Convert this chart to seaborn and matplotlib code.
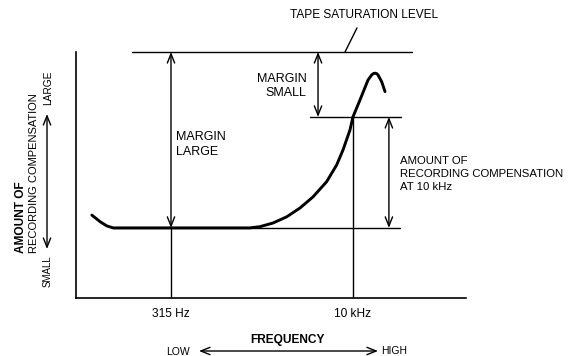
import matplotlib
matplotlib.use("Agg")
import matplotlib.pyplot as plt
from matplotlib.ticker import NullLocator
import pandas as pd
import seaborn as sns

# Recording compensation curve: frequency (Hz) against relative level
# (tape saturation level = 100)
freq_hz = [70, 82, 93, 105, 315, 1410, 1710, 2190, 2840, 3660, 4680, 6070,
           7340, 8280, 9450, 10000, 11430, 13310, 14280, 14720, 15200, 15700,
           16090, 17270, 18390]
level = [33.7, 31.0, 29.3, 28.5, 28.5, 28.5, 29.0, 30.5, 33.0, 36.6, 41.1,
         47.3, 54.1, 60.2, 68.3, 73.6, 80.5, 88.6, 90.7, 91.2, 91.4, 91.2,
         90.7, 87.9, 83.9]

saturation_level = 100
flat_level = 28.5
level_at_10k = 73.6
ref_low_hz = 315
ref_high_hz = 10000

tick_freqs = [315, 10000]
tick_labels = ["315 Hz", "10 kHz"]

W, H = 572, 356


def fpos(px, py):
    """Pixel position -> figure fraction."""
    return px / W, 1 - py / H


sns.set_theme(style="white")
plt.rcParams["font.family"] = ["Liberation Sans", "DejaVu Sans"]
plt.rcParams["text.color"] = "black"

fig = plt.figure(figsize=(W / 100, H / 100), dpi=100)
fig.patch.set_facecolor("white")
ax = fig.add_axes([76 / W, 1 - 298 / H, (466 - 76) / W, (298 - 52) / H])
ax.set_facecolor("white")

df = pd.DataFrame({"freq": freq_hz, "level": level})
sns.lineplot(data=df, x="freq", y="level", ax=ax, color="black",
             linewidth=2.1, sort=False, estimator=None,
             solid_capstyle="round", solid_joinstyle="round")

ax.set_xscale("log")
ax.set_xlim(51.8, 85700)
ax.set_ylim(0, 100)

thin = dict(color="black", linewidth=1.0)
# tape saturation level
ax.plot([151, 30700], [saturation_level] * 2, clip_on=False, **thin)
ax.plot([8600, 10800], [saturation_level, 109.8], clip_on=False, **thin)
# reference levels
ax.plot([105, 24400], [flat_level] * 2, **thin)
ax.plot([4420, 24900], [level_at_10k] * 2, **thin)
# frequency markers
ax.plot([ref_low_hz] * 2, [0, flat_level], **thin)
ax.plot([ref_high_hz] * 2, [0, level_at_10k], **thin)

arrow = dict(arrowstyle="<->,head_length=0.55,head_width=0.22",
             color="black", lw=1.0, shrinkA=0, shrinkB=0)
ax.annotate("", xy=(ref_low_hz, saturation_level),
            xytext=(ref_low_hz, flat_level), arrowprops=arrow,
            annotation_clip=False)
ax.annotate("", xy=(5150, saturation_level), xytext=(5150, level_at_10k),
            arrowprops=arrow, annotation_clip=False)
ax.annotate("", xy=(19800, level_at_10k), xytext=(19800, flat_level),
            arrowprops=arrow, annotation_clip=False)

txt = dict(color="black")
ax.text(12300, 115, "TAPE SATURATION LEVEL", ha="center", va="center",
        fontsize=8.6, **txt)
ax.text(347, 62.4, "MARGIN\nLARGE", ha="left", va="center",
        linespacing=1.3, fontsize=9, **txt)
ax.text(4150, 86.2, "MARGIN\nSMALL", ha="right", va="center",
        multialignment="right", linespacing=1.3, fontsize=9, **txt)
ax.text(24400, 50.4, "AMOUNT OF\nRECORDING COMPENSATION\nAT 10 kHz",
        ha="left", va="center", linespacing=1.4, fontsize=8.2, **txt)

ax.set_xticks(tick_freqs, tick_labels)
ax.xaxis.set_minor_locator(NullLocator())
ax.set_yticks([])
ax.tick_params(axis="x", length=0, pad=7.5, labelsize=8.6, labelcolor="black")
ax.set_xlabel("")
ax.set_ylabel("")
for side in ("top", "right"):
    ax.spines[side].set_visible(False)
for side in ("left", "bottom"):
    ax.spines[side].set_color("black")
    ax.spines[side].set_linewidth(1.2)

# vertical axis caption
fig.text(*fpos(21, 253), "AMOUNT OF", rotation=90, ha="center", va="bottom",
         fontsize=8.6, fontweight="bold")
fig.text(*fpos(34, 253), "RECORDING COMPENSATION", rotation=90, ha="center",
         va="bottom", fontsize=8.0)
fig.text(*fpos(48, 271), "SMALL", rotation=90, ha="center", va="center",
         fontsize=7)
fig.text(*fpos(48, 88), "LARGE", rotation=90, ha="center", va="center",
         fontsize=7.3)
ax.annotate("", xy=fpos(47, 114), xytext=fpos(47, 249),
            xycoords="figure fraction", textcoords="figure fraction",
            arrowprops=arrow, annotation_clip=False)

# horizontal axis caption
fig.text(*fpos(287, 340), "FREQUENCY", ha="center", va="center",
         fontsize=8.6, fontweight="bold")
fig.text(*fpos(178, 352), "LOW", ha="center", va="center", fontsize=7.5)
fig.text(*fpos(394, 351), "HIGH", ha="center", va="center", fontsize=7.5)
ax.annotate("", xy=fpos(378, 351), xytext=fpos(199, 351),
            xycoords="figure fraction", textcoords="figure fraction",
            arrowprops=arrow, annotation_clip=False)

fig.savefig("out.png", dpi=100, facecolor="white")
